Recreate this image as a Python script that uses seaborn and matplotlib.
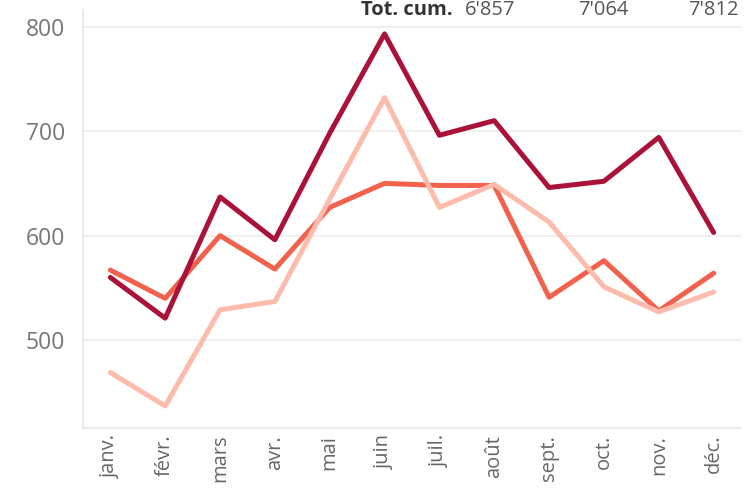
import matplotlib
matplotlib.use('Agg')
import matplotlib.pyplot as plt
import seaborn as sns
import pandas as pd

months = ['janv.', 'févr.', 'mars', 'avr.', 'mai', 'juin',
          'juil.', 'août', 'sept.', 'oct.', 'nov.', 'déc.']
# three series, named after their cumulative totals shown in the header
light = [469, 437, 529, 537, 635, 732, 627, 649, 613, 551, 527, 546]
mid = [567, 540, 600, 568, 627, 650, 648, 648, 541, 576, 528, 564]
dark = [560, 521, 637, 596, 698, 793, 696, 710, 646, 652, 694, 603]
totals = ["6'857", "7'064", "7'812"]
colors = ['#f1614c', '#fdbcab', '#ab1239']

df = pd.DataFrame({'mois': months * 3,
                   'valeur': mid + light + dark,
                   'serie': ['mid'] * 12 + ['light'] * 12 + ['dark'] * 12})
df['x'] = list(range(12)) * 3

sns.set_style('white')
plt.rcParams['font.family'] = ['Open Sans', 'DejaVu Sans']

fig = plt.figure(figsize=(7.47, 4.93), dpi=100)
ax = fig.add_axes([0.111, 0.132, 0.881, 0.848])
sns.lineplot(data=df, x='x', y='valeur', hue='serie',
             hue_order=['mid', 'light', 'dark'], palette=colors,
             lw=3.6, legend=False, ax=ax, solid_capstyle='round')

ax.set_xlim(-0.5, 11.5)
ax.set_ylim(416, 816)
ax.set_yticks([500, 600, 700, 800])
ax.yaxis.grid(True, color='#ececec', lw=1.2)
ax.set_axisbelow(True)
for s in ['top', 'right']:
    ax.spines[s].set_visible(False)
for s in ['left', 'bottom']:
    ax.spines[s].set_color('#e6e6e6')
    ax.spines[s].set_linewidth(1.2)

ax.set_xticks(range(12), months, rotation=90)
ax.set_xticks([i - 0.5 for i in range(13)], minor=True)
ax.tick_params(axis='x', which='major', length=0, pad=5, labelsize=14.5, labelcolor='#666666')
ax.tick_params(axis='x', which='minor', length=8, width=1.2, color='#e6e6e6')
ax.tick_params(axis='y', length=8, width=1.2, color='#e6e6e6', pad=5,
               labelsize=16.5, labelcolor='#777777')
ax.set_xlabel('')
ax.set_ylabel('')

# header row of cumulative totals (cut at the top in the source)
yb = 1 - 15 / 493
fig.text(453 / 747, yb, 'Tot. cum.', ha='right', va='baseline',
         fontsize=14.5, fontweight='bold', color='#333333')
for xp, t in zip([465, 578, 688], totals):
    fig.text(xp / 747, yb, t, ha='left', va='baseline', fontsize=14.5, color='#555555')

fig.savefig('out.png', dpi=100)
